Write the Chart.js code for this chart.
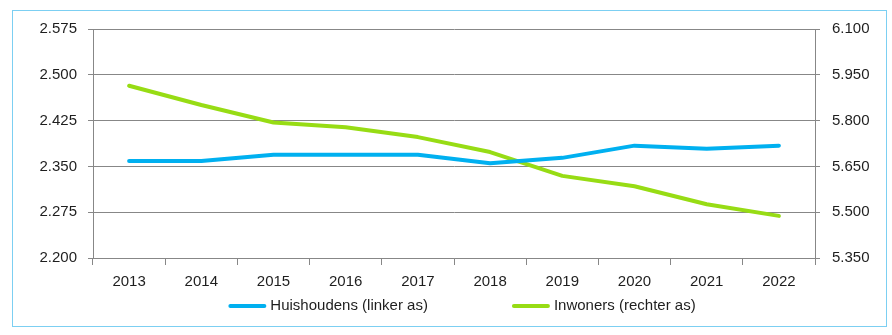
<!DOCTYPE html>
<html>
<head>
<meta charset="utf-8">
<script src="https://cdn.jsdelivr.net/npm/chart.js@4"></script>
<style>
  html, body { margin: 0; padding: 0; background: #fff; }
  #wrap { position: relative; width: 892px; height: 335px; }
  #frame { position: absolute; left: 12px; top: 10px; width: 875px; height: 317px; border: 1px solid #7ccff2; pointer-events: none; box-sizing: border-box; }
</style>
</head>
<body>
<div id="wrap">
  <canvas id="c" width="892" height="335"></canvas>
  <div id="frame"></div>
</div>
<script>
const years = ['2013','2014','2015','2016','2017','2018','2019','2020','2021','2022'];
const huishoudens = [2.359, 2.359, 2.369, 2.369, 2.369, 2.355, 2.364, 2.384, 2.379, 2.384];
const inwoners = [5.914, 5.851, 5.794, 5.778, 5.746, 5.697, 5.619, 5.585, 5.526, 5.488];
const seriesNames = ['Huishoudens (linker as)', 'Inwoners (rechter as)'];
const leftTicks = { min: 2.200, max: 2.575, step: 0.075 };
const rightTicks = { min: 5.350, max: 6.100, step: 0.150 };

const BLUE = '#00b0f0';
const GREEN = '#97dc14';
const GRID = '#878787';
const TEXT = '#1e1e1e';
const FONT = { family: '"Liberation Sans", Arial, sans-serif', size: 15 };

const fmt = v => v.toFixed(3);

const legendPlugin = {
  id: 'customLegend',
  afterDraw(chart) {
    const ctx = chart.ctx;
    const ds = chart.data.datasets;
    ctx.save();
    ctx.font = FONT.size + 'px ' + FONT.family;
    ctx.textBaseline = 'middle';
    const y = 306;
    const sample = 38, gapText = 4, gapItems = 84;
    const widths = ds.map(d => sample + gapText + ctx.measureText(d.label).width);
    const total = widths.reduce((a, b) => a + b, 0) + gapItems * (ds.length - 1);
    let x = (chart.chartArea.left + chart.chartArea.right) / 2 + 8 - total / 2;
    ds.forEach((d, i) => {
      ctx.strokeStyle = d.borderColor;
      ctx.lineWidth = 4;
      ctx.lineCap = 'round';
      ctx.beginPath();
      ctx.moveTo(x + 2, y);
      ctx.lineTo(x + sample - 2, y);
      ctx.stroke();
      ctx.fillStyle = TEXT;
      ctx.fillText(d.label, x + sample + gapText, y);
      x += widths[i] + gapItems;
    });
    ctx.restore();
  }
};

new Chart(document.getElementById('c'), {
  type: 'line',
  data: {
    labels: years,
    datasets: [
      { label: seriesNames[0], data: huishoudens, yAxisID: 'y', borderColor: BLUE, backgroundColor: BLUE,
        borderWidth: 4, pointRadius: 0, tension: 0, borderCapStyle: 'round', borderJoinStyle: 'round' },
      { label: seriesNames[1], data: inwoners, yAxisID: 'y1', borderColor: GREEN, backgroundColor: GREEN,
        borderWidth: 4, pointRadius: 0, tension: 0, borderCapStyle: 'round', borderJoinStyle: 'round' }
    ]
  },
  options: {
    responsive: false,
    animation: false,
    layout: { padding: { top: 29, bottom: 42, left: 0, right: 0 } },
    plugins: { legend: { display: false }, tooltip: { enabled: false } },
    scales: {
      x: {
        offset: true,
        grid: { offset: true, drawOnChartArea: false, drawTicks: true, tickLength: 7, color: GRID, lineWidth: 1 },
        border: { color: GRID, width: 1 },
        ticks: { color: TEXT, font: FONT, padding: 8, maxRotation: 0, autoSkip: false },
        afterFit(s) { s.height = 35; }
      },
      y: {
        position: 'left',
        min: leftTicks.min, max: leftTicks.max,
        grid: { color: GRID, lineWidth: 1, tickLength: 5, drawTicks: true },
        border: { color: GRID, width: 1 },
        ticks: { stepSize: leftTicks.step, color: TEXT, font: FONT, padding: 11, callback: v => fmt(v) },
        afterFit(s) { s.width = 93; }
      },
      y1: {
        position: 'right',
        min: rightTicks.min, max: rightTicks.max,
        grid: { drawOnChartArea: false, color: GRID, lineWidth: 1, tickLength: 5, drawTicks: true },
        border: { color: GRID, width: 1 },
        ticks: { stepSize: rightTicks.step, color: TEXT, font: FONT, padding: 12, callback: v => fmt(v) },
        afterFit(s) { s.width = 77; }
      }
    }
  },
  plugins: [legendPlugin]
});
</script>
</body>
</html>
